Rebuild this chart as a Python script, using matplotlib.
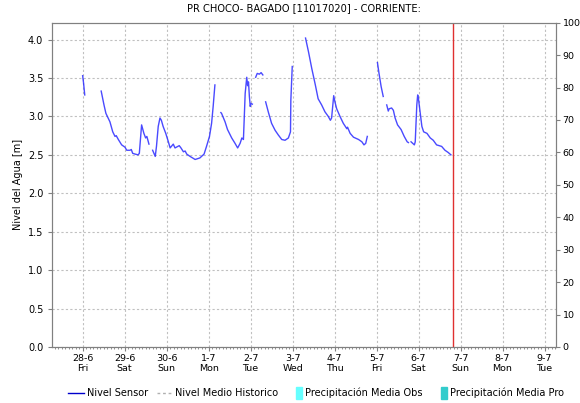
import numpy as np
import pandas as pd
import matplotlib
matplotlib.use('Agg')
import matplotlib.pyplot as plt
import matplotlib.dates as mdates
from matplotlib.lines import Line2D
from matplotlib.patches import Patch, Rectangle
from matplotlib.legend_handler import HandlerPatch

# horas desde 28-6 00:00 y nivel (m); nan = hueco en la serie
horas = [0, 0.5, 1.2, 5,
         10.6, 12.2, 13.3, 15.6, 17.2, 18.5, 19.2, 20.4, 22.3, 24.2, 25.2, 27.1, 27.8, 28.6,
         30, 31.7, 32.4, 33.7, 35, 36, 36.7, 37.9, 39,
         40, 41.5, 42.2, 43.2, 44.2, 45, 46, 47.5, 49, 50, 51.8, 52.8, 55.2, 56.2, 57.6,
         58.6, 59.5, 61.4, 64.3, 67, 69.4, 70.8, 72.5, 73.7, 74.6, 75.6, 77,
         79, 79.4, 81.4, 82.8, 85.2, 87.1, 88.6, 90, 91, 91.9, 92.9, 93.8, 94.3, 94.8,
         95.3, 95.8, 96.2, 97, 98,
         98.9, 99.8, 101, 102, 103, 104,
         104.6, 106.1, 108, 110, 111.8, 113.8, 115.7, 117.6, 118.8, 119, 119.5, 119.8, 123,
         127.4, 129.1, 131, 133, 134.6, 136.6, 138.5, 140.4, 141.6, 142.3, 143.5, 144.2,
         145.2, 147.1, 149, 151, 151.4, 152.9, 154.8, 157.7, 159.6, 160.8, 161.8, 162.7, 165,
         168.5, 169.4, 170.6, 171.8, 173,
         173.8, 174.7, 175.2, 176.6, 177.6, 178.6, 180, 182, 183.8, 185.5, 186.2, 187,
         187.7, 189.6, 190.1, 191, 191.5, 192, 193, 193.9, 194.9, 196.8, 198.7, 200.4,
         202.3, 205.2, 207.1, 209, 210.5]
nivel = [3.53, 3.44, 3.28, np.nan,
         3.33, 3.15, 3.04, 2.93, 2.80, 2.74, 2.75, 2.70, 2.63, 2.60, 2.56, 2.56, 2.57, 2.52,
         2.51, 2.50, 2.52, 2.89, 2.78, 2.72, 2.74, 2.64, np.nan,
         2.56, 2.48, 2.61, 2.87, 2.98, 2.95, 2.87, 2.78, 2.67, 2.59, 2.64, 2.59, 2.62, 2.59, 2.54,
         2.55, 2.51, 2.48, 2.44, 2.46, 2.51, 2.61, 2.74, 2.91, 3.13, 3.41, np.nan,
         3.05, 3.04, 2.93, 2.83, 2.72, 2.65, 2.59, 2.65, 2.72, 2.70, 3.30, 3.51, 3.40, 3.45,
         3.26, 3.13, 3.17, 3.16, np.nan,
         3.51, 3.56, 3.55, 3.57, 3.54, np.nan,
         3.19, 3.06, 2.91, 2.82, 2.76, 2.70, 2.69, 2.72, 2.80, 3.21, 3.49, 3.65, np.nan,
         4.02, 3.84, 3.62, 3.41, 3.23, 3.15, 3.06, 3.00, 2.95, 2.98, 3.27, 3.19,
         3.10, 3.00, 2.91, 2.84, 2.86, 2.78, 2.73, 2.70, 2.67, 2.63, 2.65, 2.74, np.nan,
         3.70, 3.56, 3.39, 3.26, np.nan,
         3.15, 3.07, 3.10, 3.11, 3.08, 2.98, 2.89, 2.83, 2.74, 2.67, 2.66, np.nan,
         2.67, 2.63, 2.67, 3.15, 3.28, 3.22, 3.04, 2.87, 2.80, 2.78, 2.72, 2.69,
         2.63, 2.61, 2.56, 2.53, 2.50]

inicio = pd.Timestamp('2024-06-28 00:00')
ahora = pd.Timestamp('2024-07-06 19:45')
x_min = pd.Timestamp('2024-06-27 06:40')
x_max = pd.Timestamp('2024-07-09 06:45')

tiempo = inicio + pd.to_timedelta(horas, unit='h')

fig = plt.figure(figsize=(5.8, 4.03), dpi=100)
ax = fig.add_axes([0.0902, 0.139, 0.869, 0.8047])

ax.plot(tiempo, nivel, color='#2a2aff', lw=1.0, alpha=0.85)
ax.axvline(ahora, color='#e03030', lw=1.0)

ax.set_xlim(x_min, x_max)
ax.set_ylim(0, 4.22)
ax.set_yticks(np.arange(0, 4.01, 0.5))
ax.yaxis.set_major_formatter(matplotlib.ticker.FormatStrFormatter('%.1f'))

ax.xaxis.set_major_locator(mdates.DayLocator())
ax.xaxis.set_minor_locator(mdates.HourLocator(byhour=range(0, 24, 2)))
ax.xaxis.set_major_formatter(matplotlib.ticker.FuncFormatter(
    lambda v, p: '%d-%d\n%s' % (mdates.num2date(v).day, mdates.num2date(v).month,
                                mdates.num2date(v).strftime('%a'))))

ax.grid(True, color='#c0c0c0', linestyle=(0, (2, 2)), lw=0.8)
ax.tick_params(axis='both', labelsize=7, color='#808080', length=3)
ax.tick_params(axis='x', pad=2, labelsize=6.8)
ax.tick_params(axis='x', which='minor', length=1.5, color='#808080')
for s in ax.spines.values():
    s.set_color('#808080')

ax.set_ylabel('Nivel del Agua [m]', fontsize=7)
ax.yaxis.set_label_coords(-0.058, 0.5)
ax.set_title('PR CHOCO- BAGADO [11017020] - CORRIENTE:', fontsize=7.1, pad=8)

ax2 = ax.twinx()
ax2.set_ylim(0, 100)
ax2.set_yticks(np.arange(0, 101, 10))
ax2.tick_params(axis='y', labelsize=6.8, color='#808080', length=3, pad=1.5)
for s in ax2.spines.values():
    s.set_color('#808080')


def barrita(legend, orig_handle, xdescent, ydescent, width, height, fontsize):
    return Rectangle((width - xdescent - 4.5, -ydescent - 2), 4.5, height + 4)


handles = [Line2D([], [], color='#0000cc', lw=1),
           Line2D([], [], color='#b0b0b0', lw=1, linestyle=(0, (2, 2))),
           Patch(color='#66ffff'),
           Patch(color='#33cccc')]
labels = ['Nivel Sensor', 'Nivel Medio Historico', 'Precipitación Media Obs', 'Precipitación Media Pro']
fig.legend(handles, labels, loc='center', bbox_to_anchor=(0.545, 0.025), ncol=4,
           frameon=False, fontsize=7, handlelength=1.6, handletextpad=0.3, columnspacing=0.9,
           handler_map={Patch: HandlerPatch(patch_func=barrita)})

fig.savefig('out.png', dpi=100)
